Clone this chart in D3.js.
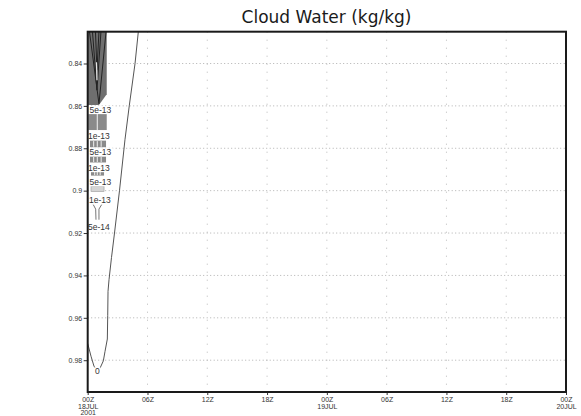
<!DOCTYPE html>
<html>
<head>
<meta charset="utf-8">
<script src="https://cdn.jsdelivr.net/npm/d3@7"></script>
<style>
  html, body { margin: 0; padding: 0; background: #fff; }
  svg { display: block; }
</style>
</head>
<body>
<svg id="chart" width="581" height="416"></svg>
<script>
// Time axis: hours after 00Z 18JUL2001
const timeTicks = [0, 6, 12, 18, 24, 30, 36, 42, 48];
const timeLabelHour = ["00Z", "06Z", "12Z", "18Z", "00Z", "06Z", "12Z", "18Z", "00Z"];
const timeLabelDay = ["18JUL", "", "", "", "19JUL", "", "", "", "20JUL"];
const timeLabelYear = ["2001", "", "", "", "", "", "", "", ""];

// Vertical axis: sigma level (increasing downward)
const levelTicks = [0.84, 0.86, 0.88, 0.90, 0.92, 0.94, 0.96, 0.98];
const levelLabels = ["0.84", "0.86", "0.88", "0.9", "0.92", "0.94", "0.96", "0.98"];

// Zero contour [hour, sigma]
const zeroContour = [
  [5.08, 0.825], [4.75, 0.840], [4.17, 0.860], [3.74, 0.876], [3.19, 0.900],
  [2.69, 0.920], [2.39, 0.9315], [2.14, 0.942], [2.04, 0.9475], [2.01, 0.9588],
  [1.97, 0.970], [1.74, 0.9758], [1.57, 0.9803], [1.23, 0.9838], [0.93, 0.9847],
  [0.63, 0.9828], [0.33, 0.9781], [0.0, 0.9721]
];

// Shaded high-value core near the top of the column [hour, sigma]
const coreShade = [
  [0.0, 0.825], [1.91, 0.825], [1.91, 0.8545], [1.13, 0.8596], [0.0, 0.8596]
];

// Closely packed contours inside the core [hour, sigma]
const coreContours = [
  [[0.18, 0.825], [1.13, 0.8590], [1.84, 0.825]],
  [[0.48, 0.825], [0.93, 0.8526], [1.33, 0.825]],
  [[0.78, 0.825], [0.93, 0.8432], [1.13, 0.825]]
];
const coreStreak = [[0.88, 0.8394], [0.93, 0.8479]];

// Small shaded cells below the core: [hour0, hour1, sigma0, sigma1]
const shadedCells = [
  [0.06, 1.91, 0.8635, 0.8714],
  [0.23, 1.84, 0.8764, 0.8795],
  [0.23, 1.84, 0.8839, 0.8867],
  [0.33, 1.64, 0.8910, 0.8929]
];
const outlinedCells = [
  [0.33, 1.64, 0.8980, 0.9004]
];
// Contour segments threading through the cells [hour, sigma]
const cellSegments = [
  [[0.96, 0.8635], [0.96, 0.8714]],
  [[0.60, 0.8766], [0.60, 0.8793]], [[0.96, 0.8766], [0.96, 0.8793]], [[1.35, 0.8766], [1.35, 0.8793]],
  [[0.60, 0.8841], [0.60, 0.8865]], [[0.96, 0.8841], [0.96, 0.8865]], [[1.35, 0.8841], [1.35, 0.8865]],
  [[0.70, 0.8912], [0.70, 0.8927]], [[0.96, 0.8912], [0.96, 0.8927]], [[1.25, 0.8912], [1.25, 0.8927]]
];

// Forked contour below the cells [hour, sigma]
const forkContours = [
  [[0.56, 0.9066], [0.80, 0.9087], [0.83, 0.9137]],
  [[1.40, 0.9066], [1.13, 0.9087], [1.13, 0.9137]]
];

// Contour labels [text, hour, sigma]
const contourLabels = [
  ["5e-13", 1.28, 0.8620],
  ["1e-13", 1.13, 0.8742],
  ["5e-13", 1.28, 0.8819],
  ["1e-13", 1.13, 0.8894],
  ["5e-13", 1.28, 0.8961],
  ["1e-13", 1.23, 0.9043],
  ["5e-14", 1.13, 0.9171],
  ["0", 0.98, 0.9852]
];

const title = "Cloud Water (kg/kg)";

const svg = d3.select("#chart");
const plotLeft = 87.7, plotRight = 566, plotTop = 31.7, plotBottom = 392;

const x = d3.scaleLinear().domain([0, 48]).range([plotLeft, plotRight]);
const y = d3.scaleLinear().domain([0.825, 0.995]).range([plotTop, plotBottom]);

const tickFont = "'Liberation Sans', Arial, sans-serif";

// Title
svg.append("text")
  .attr("x", 326.5).attr("y", 22.5)
  .attr("text-anchor", "middle")
  .attr("font-family", "'DejaVu Sans', sans-serif")
  .attr("font-size", 17)
  .attr("fill", "#1a1a1a")
  .text(title);

// Grid
const grid = svg.append("g");
grid.selectAll(".hg").data(levelTicks).join("line")
  .attr("x1", plotLeft).attr("x2", plotRight)
  .attr("y1", d => y(d)).attr("y2", d => y(d))
  .attr("stroke", "#b0b0b0").attr("stroke-width", 1)
  .attr("stroke-dasharray", "1,2.5");
grid.selectAll(".vg").data(timeTicks.slice(1, -1)).join("line")
  .attr("x1", d => x(d)).attr("x2", d => x(d))
  .attr("y1", plotTop).attr("y2", plotBottom)
  .attr("stroke", "#b8b8b8").attr("stroke-width", 1)
  .attr("stroke-dasharray", "1,7");

const line = d3.line().x(d => x(d[0])).y(d => y(d[1]));

// Shaded core and cells
const plot = svg.append("g");
plot.append("path")
  .attr("d", line(coreShade) + "Z")
  .attr("fill", "#6f6f6f");
plot.selectAll(".core").data(coreContours).join("path")
  .attr("d", line).attr("fill", "none")
  .attr("stroke", "#222").attr("stroke-width", 1);
plot.append("path")
  .attr("d", line(coreStreak)).attr("fill", "none")
  .attr("stroke", "#e8e8e8").attr("stroke-width", 1.2);

plot.selectAll(".cell").data(shadedCells).join("rect")
  .attr("x", d => x(d[0])).attr("width", d => x(d[1]) - x(d[0]))
  .attr("y", d => y(d[2])).attr("height", d => y(d[3]) - y(d[2]))
  .attr("fill", "#8a8a8a");
plot.selectAll(".ocell").data(outlinedCells).join("rect")
  .attr("x", d => x(d[0])).attr("width", d => x(d[1]) - x(d[0]))
  .attr("y", d => y(d[2])).attr("height", d => y(d[3]) - y(d[2]))
  .attr("fill", "#d4d4d4").attr("stroke", "#999").attr("stroke-width", 0.6);
plot.selectAll(".seg").data(cellSegments).join("path")
  .attr("d", line).attr("fill", "none")
  .attr("stroke", "#f2f2f2").attr("stroke-width", 1);

// Contour lines
plot.append("path")
  .attr("d", line(zeroContour)).attr("fill", "none")
  .attr("stroke", "#555").attr("stroke-width", 1);
plot.selectAll(".fork").data(forkContours).join("path")
  .attr("d", line).attr("fill", "none")
  .attr("stroke", "#777").attr("stroke-width", 1);

// Contour labels on white boxes
const lab = plot.selectAll(".lab").data(contourLabels).join("g")
  .attr("transform", d => `translate(${x(d[1])},${y(d[2])})`);
lab.append("rect")
  .attr("x", d => -d[0].length * 2.5 - 0.5).attr("y", -4)
  .attr("width", d => d[0].length * 5 + 1).attr("height", 8)
  .attr("fill", "#fff");
lab.append("text")
  .attr("text-anchor", "middle").attr("dy", "0.35em")
  .attr("font-family", tickFont).attr("font-size", 8.5)
  .attr("fill", "#333")
  .text(d => d[0]);

// Axes
const yAxis = d3.axisLeft(y).tickValues(levelTicks)
  .tickFormat((d, i) => levelLabels[i]).tickSize(4).tickPadding(1.5);
const gy = svg.append("g").attr("transform", `translate(${plotLeft},0)`).call(yAxis);
gy.select(".domain").remove();
gy.selectAll("line").attr("stroke", "#333");
gy.selectAll("text").attr("font-family", tickFont).attr("font-size", 7).attr("fill", "#333");

const xAxis = d3.axisBottom(x).tickValues(timeTicks)
  .tickFormat(() => "").tickSize(3);
const gx = svg.append("g").attr("transform", `translate(0,${plotBottom})`).call(xAxis);
gx.select(".domain").remove();
gx.selectAll("line").attr("stroke", "#333");
gx.selectAll(".tick").each(function(d, i) {
  const t = d3.select(this).append("text")
    .attr("text-anchor", "middle")
    .attr("font-family", tickFont).attr("font-size", 7)
    .attr("fill", "#333");
  [timeLabelHour[i], timeLabelDay[i], timeLabelYear[i]].forEach((s, k) => {
    if (s) t.append("tspan").attr("x", 0).attr("y", 10 + k * 6.7).text(s);
  });
});

// Frame
svg.append("rect")
  .attr("x", plotLeft).attr("y", plotTop)
  .attr("width", plotRight - plotLeft).attr("height", plotBottom - plotTop)
  .attr("fill", "none").attr("stroke", "#1a1a1a").attr("stroke-width", 2);
</script>
</body>
</html>
